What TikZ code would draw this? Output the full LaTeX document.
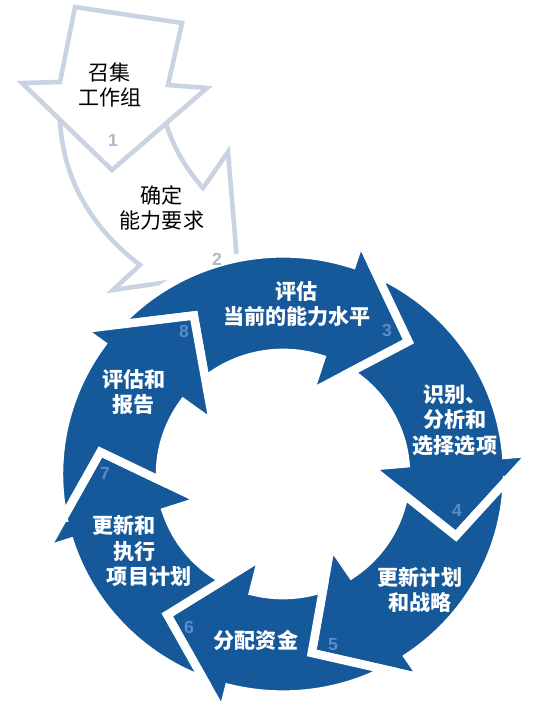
\documentclass[tikz,border=0pt]{standalone}
\usepackage{fontspec}
\setmainfont{Noto Sans CJK SC}
\newfontfamily\numfont{Liberation Sans}
\definecolor{ringblue}{HTML}{15599A}
\definecolor{numblue}{HTML}{5A8CCB}
\definecolor{paleline}{HTML}{C9D3E2}
\definecolor{palenum}{HTML}{AEB8C6}

\begin{document}
\begin{tikzpicture}[scale=0.02, line join=miter, font=\fontsize{12}{14.4}\selectfont]
        \tikzstyle{outline}=[fill=white, draw=paleline, line width=2.6pt]
        \tikzstyle{ring}=[fill=ringblue, draw=white, line width=4.8pt]
        \tikzstyle{ringtext}=[text=white, align=center, font=\fontsize{12}{14.4}\selectfont\bfseries]
        \tikzstyle{num}=[text=numblue, font=\numfont\bfseries\fontsize{10}{12}\selectfont]

        \useasboundingbox (-283,-250) rectangle (270,470);

        % pale arrows 1 and 2
        \draw[outline] (-223,378) .. controls (-228,300) and (-195,245) .. (-143,205) -- (-170,180) -- (-45,198) -- (-55,318) -- (-80,282) .. controls (-100,305) and (-115,330) .. (-123,370) -- cycle;
        \draw[outline] (-208,463) -- (-101,447) -- (-115,385) -- (-76,382) -- (-171,300) -- (-261,387) -- (-223,388) -- cycle;

        % ring of six arrows, clockwise
        \begin{scope}[shift={(0,-4)}, yscale=0.985]
        \draw[ring] (137.4:224) -- (119:184) -- (129.1:123) arc[start angle=129.1, end angle=72, radius=123] -- (72:86) -- (47:184) -- (72:250) -- (72:224) arc[start angle=72, end angle=137.4, radius=224] -- cycle;
        \draw[ring] (65.4:224) -- (47:184) -- (57.1:123) arc[start angle=57.1, end angle=5, radius=123] -- (5:86) -- (-20:184) -- (5:250) -- (5:224) arc[start angle=5, end angle=65.4, radius=224] -- cycle;
        \draw[ring] (-1.6:224) -- (-20:184) -- (-9.9:123) arc[start angle=-9.9, end angle=-56, radius=123] -- (-56:86) -- (-81:184) -- (-56:250) -- (-56:224) arc[start angle=-56, end angle=-1.6, radius=224] -- cycle;
        \draw[ring] (-62.6:224) -- (-81:184) -- (-70.9:123) arc[start angle=-70.9, end angle=-104, radius=123] -- (-104:86) -- (-129:184) -- (-104:250) -- (-104:224) arc[start angle=-104, end angle=-62.6, radius=224] -- cycle;
        \draw[ring] (-110.6:224) -- (-129:184) -- (-118.9:123) arc[start angle=-118.9, end angle=-162, radius=123] -- (-162:86) -- (-187:184) -- (-162:250) -- (-162:224) arc[start angle=-162, end angle=-110.6, radius=224] -- cycle;
        \draw[ring] (-168.6:224) -- (-187:184) -- (-176.9:123) arc[start angle=-176.9, end angle=-216, radius=123] -- (-216:86) -- (-241:184) -- (-216:250) -- (-216:224) arc[start angle=-216, end angle=-168.6, radius=224] -- cycle;
        \end{scope}

        \node[align=center] (t1) at (-173,385) {召集\\工作组};
        \node[align=center] (t2) at (-121,262) {确定\\能力要求};
        \node[ringtext] (t3) at (14,166) {评估\\当前的能力水平};
        \node[ringtext] (t4) at (172,50) {识别、\\分析和\\选择选项};
        \node[ringtext] (t5) at (137,-120) {更新计划\\和战略};
        \node[ringtext] (t6) at (-27,-170) {分配资金};
        \node[ringtext, align=left, anchor=west] (t7) at (-197,-81) {更新和\\\hspace*{1em}执行\\\hspace*{0.7em}项目计划};
        \node[ringtext] (t8) at (-149,78) {评估和\\报告};

        \node[num, text=palenum] (n1) at (-170,330) {1};
        \node[num, text=palenum] (n2) at (-66,211) {2};
        \node[num] (n3) at (104,140) {3};
        \node[num] (n4) at (174,-40) {4};
        \node[num] (n5) at (50,-175) {5};
        \node[num] (n6) at (-94,-157) {6};
        \node[num] (n7) at (-178,-3) {7};
        \node[num] (n8) at (-99,139) {8};
      
\end{tikzpicture}
\end{document}
